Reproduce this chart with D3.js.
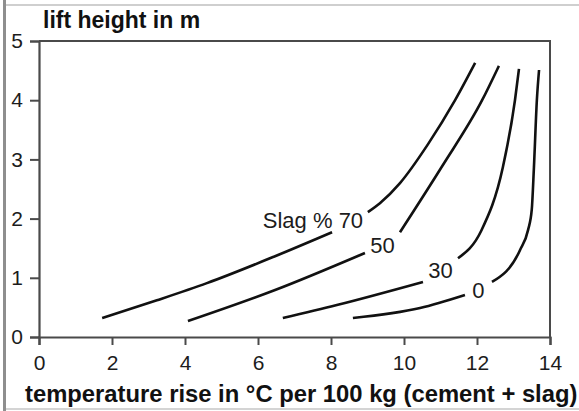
<!DOCTYPE html>
<html>
<head>
<meta charset="utf-8">
<script src="https://cdn.jsdelivr.net/npm/d3@7"></script>
<style>
  html, body { margin: 0; padding: 0; background: #fff; }
  svg { display: block; font-family: "Liberation Sans", Arial, Helvetica, sans-serif; }
</style>
</head>
<body>
<svg id="chart" width="579" height="411"></svg>
<script>
// Lift height (m) vs. temperature rise (°C per 100 kg binder) for slag contents
const slagLevels = ["70", "50", "30", "0"];

// Each curve is broken where its label sits: lower run and upper run, [tempRise, liftHeight]
const slag70Lower = [[1.73, 0.32], [3.23, 0.62], [4.6, 0.91], [6.45, 1.36], [8.03, 1.77]];
const slag70Upper = [[9.01, 2.11], [9.34, 2.26], [9.89, 2.6], [10.65, 3.25], [11.4, 4.0], [11.95, 4.63]];
const slag50Lower = [[4.08, 0.27], [6.45, 0.79], [8.93, 1.42]];
const slag50Upper = [[9.89, 1.77], [11.04, 2.88], [12.14, 4.0], [12.6, 4.58]];
const slag30Lower = [[6.68, 0.32], [8.16, 0.54], [10.52, 0.93]];
const slag30Upper = [[11.48, 1.33], [12.12, 1.8], [12.71, 2.87], [13.04, 4.0], [13.15, 4.53]];
const slag0Lower = [[8.6, 0.32], [10.44, 0.49], [11.67, 0.71]];
const slag0Upper = [[12.41, 0.93], [13.18, 1.47], [13.4, 1.81], [13.5, 2.15], [13.56, 2.87], [13.64, 4.0], [13.7, 4.51]];

// Curve labels, anchored in data space
const labelTexts = ["Slag % 70", "50", "30", "0"];
const labelX = [8.88, 9.41, 11.0, 12.04];
const labelY = [1.84, 1.42, 1.0, 0.66];
const labelAnchor = ["end", "middle", "middle", "middle"];

const xTicks = [0, 2, 4, 6, 8, 10, 12, 14];
const yTicks = [0, 1, 2, 3, 4, 5];
const xTitle = "temperature rise in \u00B0C per 100 kg (cement + slag)";
const yTitle = "lift height in m";

const svg = d3.select("#chart");
const W = 579, H = 411;
const plot = { left: 39, right: 550, top: 41, bottom: 337 };

const x = d3.scaleLinear().domain([0, 14]).range([plot.left, plot.right]);
const y = d3.scaleLinear().domain([0, 5]).range([plot.bottom, plot.top]);

// page frame
svg.append("rect").attr("x", 0).attr("y", 0).attr("width", W).attr("height", H).attr("fill", "#fff");
svg.append("rect").attr("x", 3).attr("y", 4).attr("width", W - 3).attr("height", 2).attr("fill", "#cfcfcf");
svg.append("rect").attr("x", 3).attr("y", 408).attr("width", W - 3).attr("height", 2).attr("fill", "#d4d4d4");
svg.append("rect").attr("x", 3).attr("y", 0).attr("width", 3).attr("height", H).attr("fill", "#8e8e8e");

const axisColor = "#4a4a4a";
const textColor = "#1c1c1c";

// plot box (top and right edges)
svg.append("path")
  .attr("d", `M${plot.left},${plot.top}H${plot.right}V${plot.bottom}`)
  .attr("fill", "none").attr("stroke", axisColor).attr("stroke-width", 2);

// x axis
const gx = svg.append("g")
  .attr("transform", `translate(0,${plot.bottom})`)
  .call(d3.axisBottom(x).tickValues(xTicks).tickSize(8).tickPadding(10).tickFormat(d3.format("d")));
gx.select(".domain").attr("stroke", axisColor).attr("stroke-width", 2.2);
gx.selectAll(".tick line").attr("stroke", axisColor).attr("stroke-width", 2);
gx.selectAll(".tick text").attr("fill", textColor).attr("font-size", 21)
  .attr("font-family", "Liberation Sans, Arial, sans-serif");

// y axis
const gy = svg.append("g")
  .attr("transform", `translate(${plot.left},0)`)
  .call(d3.axisLeft(y).tickValues(yTicks).tickSize(9).tickPadding(7).tickFormat(d3.format("d")));
gy.select(".domain").attr("stroke", axisColor).attr("stroke-width", 2.2);
gy.selectAll(".tick line").attr("stroke", axisColor).attr("stroke-width", 2);
gy.selectAll(".tick text").attr("fill", textColor).attr("font-size", 21)
  .attr("font-family", "Liberation Sans, Arial, sans-serif");

// axis titles
svg.append("text")
  .attr("x", 43).attr("y", 28)
  .attr("font-size", 23).attr("font-weight", "bold").attr("fill", "#111")
  .text(yTitle);
svg.append("text")
  .attr("x", 25).attr("y", 402)
  .attr("font-size", 23.8).attr("font-weight", "bold").attr("fill", "#111")
  .text(xTitle);

// curves
const line = d3.line()
  .x(d => x(d[0]))
  .y(d => y(d[1]))
  .curve(d3.curveMonotoneX);

const runs = [slag70Lower, slag70Upper, slag50Lower, slag50Upper,
              slag30Lower, slag30Upper, slag0Lower, slag0Upper];
svg.append("g").selectAll("path")
  .data(runs)
  .join("path")
  .attr("d", line)
  .attr("fill", "none")
  .attr("stroke", "#111")
  .attr("stroke-width", 2.6)
  .attr("stroke-linecap", "butt");

// curve labels
svg.append("g").selectAll("text")
  .data(labelTexts)
  .join("text")
  .attr("x", (d, i) => x(labelX[i]))
  .attr("y", (d, i) => y(labelY[i]))
  .attr("text-anchor", (d, i) => labelAnchor[i])
  .attr("font-size", 22)
  .attr("fill", textColor)
  .text(d => d);
</script>
</body>
</html>
